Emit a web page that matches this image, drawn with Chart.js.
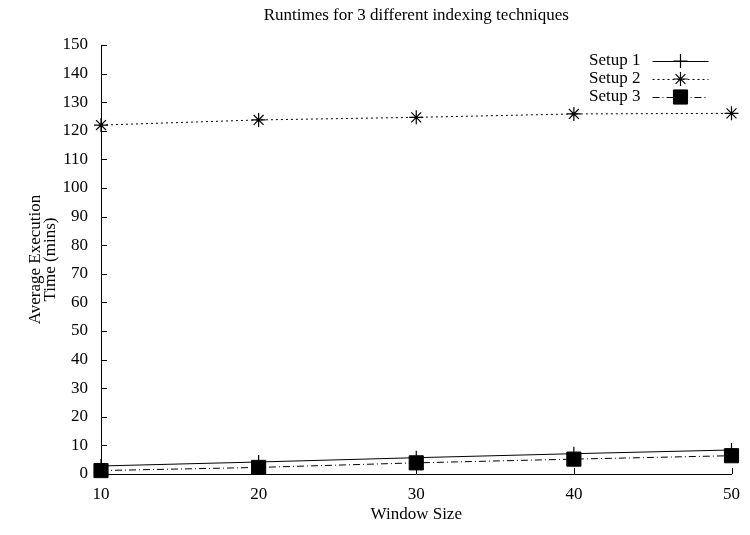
<!DOCTYPE html>
<html>
<head>
<meta charset="utf-8">
<script src="https://cdn.jsdelivr.net/npm/chart.js@4"></script>
<style>
  html, body { margin: 0; padding: 0; background: #fff; }
  #wrap { width: 750px; height: 535px; position: relative; }
</style>
</head>
<body>
<div id="wrap"><canvas id="c" width="750" height="535"></canvas></div>
<script>
// ---- data ----
const windowSizes = [10, 20, 30, 40, 50];
const setup1 = [2.8, 4.2, 5.7, 7.1, 8.4];
const setup2 = [122, 123.8, 124.7, 125.9, 126.1];
const setup3 = [1.2, 2.3, 3.9, 5.2, 6.4];
const seriesLabels = ['Setup 1', 'Setup 2', 'Setup 3'];
const chartTitle = 'Runtimes for 3 different indexing techniques';
const xTitle = 'Window Size';
const yTitle = ['Average Execution', 'Time (mins)'];

const FONT = "'Liberation Serif', 'Times New Roman', serif";

function pts(ys) { return windowSizes.map((x, i) => ({ x: x, y: ys[i] })); }

// inward tick marks (gnuplot style)
const inwardTicks = {
  id: 'inwardTicks',
  afterDatasetsDraw(chart) {
    const { ctx, chartArea, scales } = chart;
    ctx.save();
    ctx.strokeStyle = '#000';
    ctx.lineWidth = 1;
    ctx.beginPath();
    scales.y.ticks.forEach(t => {
      const py = Math.round(scales.y.getPixelForValue(t.value)) + 0.5;
      ctx.moveTo(chartArea.left, py);
      ctx.lineTo(chartArea.left + 6, py);
    });
    scales.x.ticks.forEach(t => {
      const px = Math.round(scales.x.getPixelForValue(t.value)) + 0.5;
      ctx.moveTo(px, chartArea.bottom);
      ctx.lineTo(px, chartArea.bottom - 6);
    });
    ctx.stroke();
    ctx.restore();
  }
};

// gnuplot-style key: right-aligned label, then line sample with marker
const gnuKey = {
  id: 'gnuKey',
  afterDraw(chart) {
    const { ctx, chartArea } = chart;
    const textRight = chartArea.right - 91;
    const x0 = chartArea.right - 79, x1 = chartArea.right - 23, xm = chartArea.right - 51;
    const y0 = chartArea.top + 16, dy = 18;
    ctx.save();
    chart.data.datasets.forEach((ds, i) => {
      const y = y0 + i * dy;
      ctx.font = '17px ' + FONT;
      ctx.fillStyle = '#000';
      ctx.textAlign = 'right';
      ctx.textBaseline = 'middle';
      ctx.fillText(ds.label, textRight, y);
      ctx.strokeStyle = ds.borderColor;
      ctx.lineWidth = ds.borderWidth;
      ctx.setLineDash(ds.borderDash || []);
      ctx.beginPath();
      ctx.moveTo(x0, Math.round(y) + 0.5);
      ctx.lineTo(x1, Math.round(y) + 0.5);
      ctx.stroke();
      ctx.setLineDash([]);
      ctx.fillStyle = ds.pointBackgroundColor;
      ctx.strokeStyle = ds.pointBorderColor;
      ctx.lineWidth = ds.pointBorderWidth;
      Chart.helpers.drawPoint(ctx, { pointStyle: ds.pointStyle, radius: ds.pointRadius, rotation: 0, borderWidth: ds.pointBorderWidth }, xm, y);
    });
    ctx.restore();
  }
};

new Chart(document.getElementById('c'), {
  type: 'line',
  data: {
    datasets: [
      { label: seriesLabels[0], data: pts(setup1), borderColor: '#000', borderWidth: 1, borderDash: [],
        pointStyle: 'cross', pointRadius: 7, pointBorderColor: '#000', pointBackgroundColor: '#000', pointBorderWidth: 1.2, order: 3, clip: false },
      { label: seriesLabels[1], data: pts(setup2), borderColor: '#000', borderWidth: 1, borderDash: [2, 3],
        pointStyle: 'star', pointRadius: 7, pointBorderColor: '#000', pointBackgroundColor: '#000', pointBorderWidth: 1.2, order: 2, clip: false },
      { label: seriesLabels[2], data: pts(setup3), borderColor: '#000', borderWidth: 1, borderDash: [7, 3, 1, 3],
        pointStyle: 'rect', pointRadius: 10, pointBorderColor: '#000', pointBackgroundColor: '#000', pointBorderWidth: 1, order: 1, clip: false }
    ]
  },
  options: {
    responsive: false,
    animation: false,
    events: [],
    layout: { padding: { left: 0, right: 9, top: 0, bottom: 0 } },
    plugins: {
      legend: { display: false },
      tooltip: { enabled: false },
      title: {
        display: true, text: chartTitle, fullSize: false, color: '#000',
        font: { family: FONT, size: 17, weight: 'normal', lineHeight: 1.2 },
        padding: { top: 5, bottom: 19.6 }
      }
    },
    scales: {
      x: {
        type: 'linear', min: 10, max: 50,
        ticks: { stepSize: 10, color: '#000', padding: 10, maxRotation: 0, font: { family: FONT, size: 17 } },
        grid: { display: false, drawTicks: false },
        border: { display: true, color: '#000', width: 1 },
        title: { display: true, text: xTitle, color: '#000', font: { family: FONT, size: 17, lineHeight: 1.2 }, padding: { top: 0, bottom: 9.8 } },
        afterFit(s) { s.height = 61; }
      },
      y: {
        type: 'linear', min: 0, max: 150,
        ticks: { stepSize: 10, color: '#000', padding: 13, font: { family: FONT, size: 17 } },
        grid: { display: false, drawTicks: false },
        border: { display: true, color: '#000', width: 1 },
        title: { display: true, text: yTitle, color: '#000', font: { family: FONT, size: 17, lineHeight: 0.9 }, padding: { top: 28, bottom: 0 } },
        afterFit(s) { s.width = 101; }
      }
    }
  },
  plugins: [inwardTicks, gnuKey]
});
</script>
</body>
</html>
